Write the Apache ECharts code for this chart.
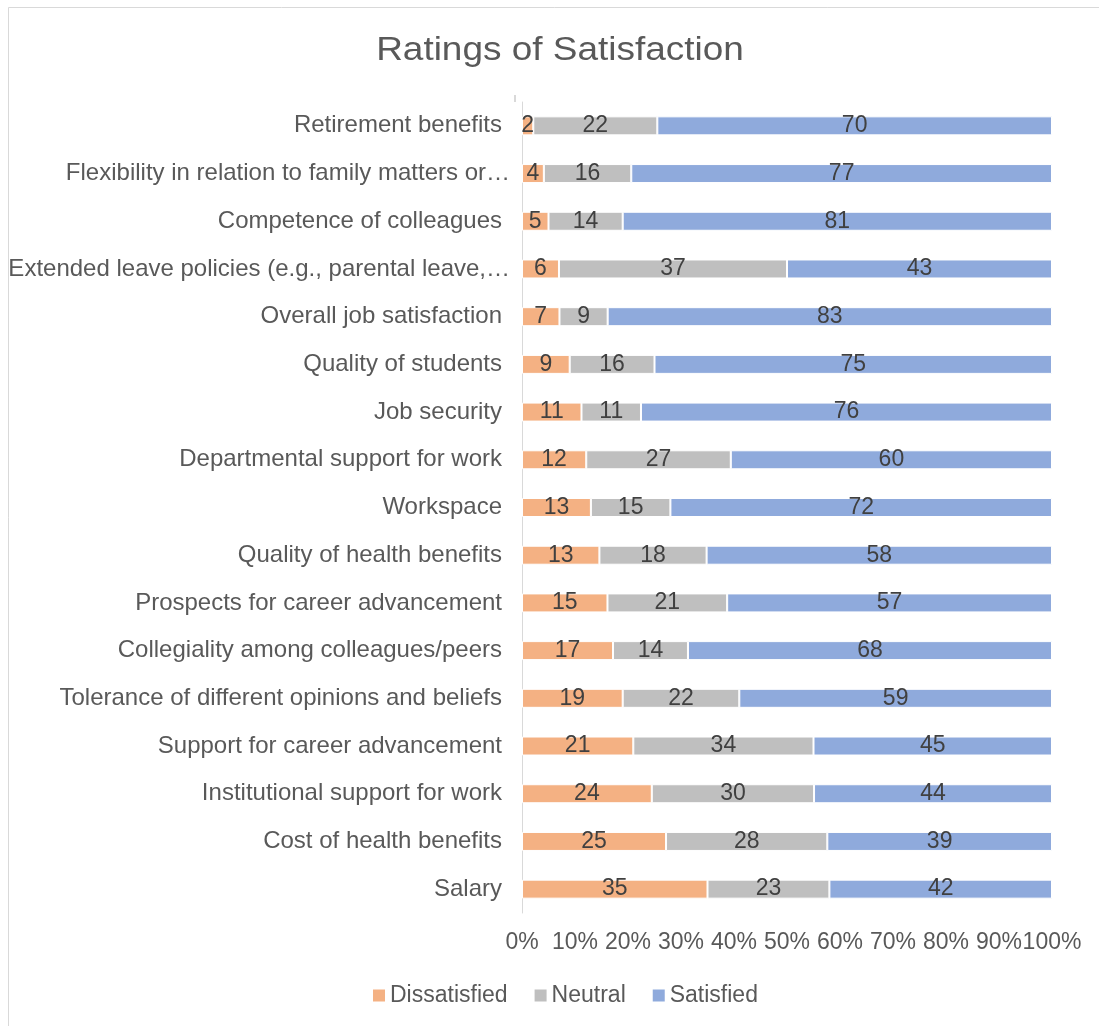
<!DOCTYPE html>
<html>
<head>
<meta charset="utf-8">
<script src="https://cdn.jsdelivr.net/npm/echarts@6/dist/echarts.min.js"></script>
<style>
  html, body { margin: 0; padding: 0; background: #fff; }
  #chart { width: 1099px; height: 1026px; }
</style>
</head>
<body>
<div id="chart"></div>
<script>
// Survey items, top to bottom
const categories = [
  'Retirement benefits',
  'Flexibility in relation to family matters or…',
  'Competence of colleagues',
  'Extended leave policies (e.g., parental leave,…',
  'Overall job satisfaction',
  'Quality of students',
  'Job security',
  'Departmental support for work',
  'Workspace',
  'Quality of health benefits',
  'Prospects for career advancement',
  'Collegiality among colleagues/peers',
  'Tolerance of different opinions and beliefs',
  'Support for career advancement',
  'Institutional support for work',
  'Cost of health benefits',
  'Salary'
];
const dissatisfied = [2, 4, 5, 6, 7, 9, 11, 12, 13, 13, 15, 17, 19, 21, 24, 25, 35];
const neutral      = [22, 16, 14, 37, 9, 16, 11, 27, 15, 18, 21, 14, 22, 34, 30, 28, 23];
const satisfied    = [70, 77, 81, 43, 83, 75, 76, 60, 72, 58, 57, 68, 59, 45, 44, 39, 42];
const xTicks = [0, 10, 20, 30, 40, 50, 60, 70, 80, 90, 100];

const FONT = '"Liberation Sans", Arial, sans-serif';
const TEXT = '#595959';

// Each bar is scaled to 100% of its row total; labels keep the raw counts
const totals = categories.map((_, i) => dissatisfied[i] + neutral[i] + satisfied[i]);
function toShare(arr) {
  return arr.map((v, i) => ({ value: v / totals[i] * 100, raw: v }));
}

function makeSeries(name, arr, color) {
  return {
    name: name,
    type: 'bar',
    stack: 'share',
    barWidth: 19,
    data: toShare(arr),
    itemStyle: { color: color, borderColor: '#ffffff', borderWidth: 1 },
    label: {
      show: true,
      position: 'inside',
      color: '#404040',
      fontFamily: FONT,
      fontSize: 23,
      formatter: p => p.data.raw
    },
    emphasis: { disabled: true }
  };
}

const chart = echarts.init(document.getElementById('chart'), null, { renderer: 'canvas' });
chart.setOption({
  animation: false,
  backgroundColor: '#ffffff',
  textStyle: { fontFamily: FONT },
  graphic: [{
    type: 'rect',
    shape: { x: 8.5, y: 7.5, width: 1200, height: 1100 },
    style: { fill: 'none', stroke: '#D9D9D9', lineWidth: 1 },
    silent: true
  }, {
    // short stub above the category axis
    type: 'rect',
    shape: { x: 514, y: 95, width: 2, height: 7 },
    style: { fill: '#D9D9D9' },
    silent: true
  }, {
    // chart title, drawn slightly wide
    type: 'text',
    x: 560,
    y: 51,
    scaleX: 1.12,
    silent: true,
    style: {
      text: 'Ratings of Satisfaction',
      fill: TEXT,
      font: '33px "Liberation Sans", Arial, sans-serif',
      align: 'center',
      verticalAlign: 'middle'
    }
  }],
  legend: {
    left: 366,
    top: 979,
    itemWidth: 14,
    itemHeight: 14,
    itemGap: 25,
    icon: 'rect',
    textStyle: { color: TEXT, fontFamily: FONT, fontSize: 23, padding: [0, 0, 0, -1] },
    data: ['Dissatisfied', 'Neutral', 'Satisfied']
  },
  grid: {
    left: 522, right: 47, top: 102, bottom: 113,
    containLabel: false,
    outerBoundsMode: 'none'
  },
  xAxis: {
    type: 'value',
    min: xTicks[0],
    max: xTicks[xTicks.length - 1],
    interval: xTicks[1] - xTicks[0],
    axisLine: { show: false },
    axisTick: { show: false },
    splitLine: { show: false },
    axisLabel: {
      color: TEXT,
      fontFamily: FONT,
      fontSize: 23,
      margin: 18,
      formatter: '{value}%'
    }
  },
  yAxis: {
    type: 'category',
    inverse: true,
    data: categories,
    axisLine: { show: true, lineStyle: { color: '#D9D9D9', width: 1 } },
    axisTick: { show: false },
    axisLabel: {
      color: TEXT,
      fontFamily: FONT,
      fontSize: 24,
      margin: 20,
      // clipped item names sit a little closer to the axis
      formatter: v => v.endsWith('…') ? '{cut|' + v + '}' : v,
      rich: {
        cut: { color: TEXT, fontFamily: FONT, fontSize: 24, padding: [0, -8, 0, 0] }
      }
    }
  },
  series: [
    makeSeries('Dissatisfied', dissatisfied, '#F4B183'),
    makeSeries('Neutral', neutral, '#BFBFBF'),
    makeSeries('Satisfied', satisfied, '#8FAADC')
  ]
});
</script>
</body>
</html>
